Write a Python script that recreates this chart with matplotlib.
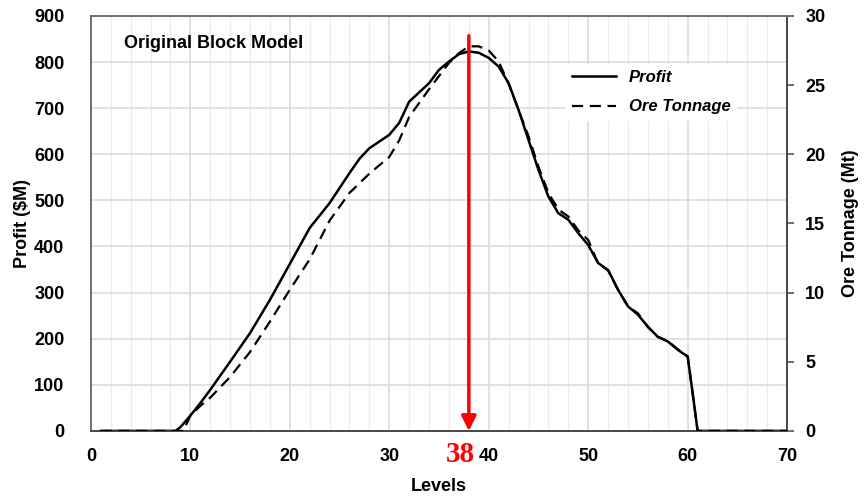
import matplotlib.pyplot as plt
import numpy as np
from matplotlib.lines import Line2D

plt.rcParams['font.family'] = ['Liberation Sans', 'DejaVu Sans']
plt.rcParams['font.weight'] = 'bold'

# Profit ($M) par niveau
levels_profit = [1, 8.5, 9, 10, 11, 12, 14, 16, 18, 20, 22, 24, 26, 27, 28, 30, 31, 32, 34, 35, 36, 37, 38,
                 39, 40, 41, 42, 43, 44, 45, 46, 47, 48, 49, 50, 51, 52, 53, 54, 55, 56, 57, 58, 59, 60,
                 60.5, 61, 70]
profit = [0, 0, 8, 33, 60, 89, 150, 212, 284, 362, 440, 494, 559, 590, 613, 642, 668, 714, 754, 783, 801, 817, 823,
          820, 809, 790, 754, 696, 631, 566, 508, 472, 458, 429, 403, 364, 349, 306, 270, 252, 226, 204, 194, 176, 161,
          82, 0, 0]

# Tonnage de minerai (Mt) par niveau
levels_ore = [1, 9.3, 10, 11, 12, 14, 16, 18, 20, 22, 23, 24, 26, 28, 30, 31, 32, 34, 36, 37, 38, 39, 40, 41,
              42, 43, 44, 45, 46, 47, 48, 49, 50, 51, 52, 53, 54, 55, 56, 57, 58, 59, 60, 60.5, 61, 70]
ore = [0, 0, 1.1, 1.8, 2.4, 3.9, 5.7, 7.9, 10.2, 12.4, 13.8, 15.2, 17.2, 18.6, 19.8, 21.0, 22.7, 24.7, 26.6, 27.3,
       27.8, 27.8, 27.5, 26.7, 25.1, 23.2, 21.3, 19.1, 17.2, 16.0, 15.5, 14.5, 13.8, 12.1, 11.6, 10.2, 9.0, 8.5,
       7.5, 6.8, 6.5, 5.9, 5.4, 2.7, 0, 0]

best_level = 38

fig = plt.figure(figsize=(8.65, 4.97), dpi=100)
ax = fig.add_axes([0.105, 0.133, 0.805, 0.835])
ax2 = ax.twinx()

ax.plot(levels_profit, profit, color='black', lw=1.8, zorder=3, solid_joinstyle='round')
ax2.plot(levels_ore, ore, color='black', lw=1.6, ls=(0, (5, 3)), zorder=3)

ax.set_xlim(0, 70)
ax.set_ylim(0, 900)
ax2.set_ylim(0, 30)
ax.set_xticks(np.arange(0, 71, 10))
ax.set_xticks(np.arange(0, 71, 2), minor=True)
ax.set_yticks(np.arange(0, 901, 100))
ax2.set_yticks(np.arange(0, 31, 5))

ax.grid(which='major', axis='x', color='#dcdcdc', lw=1.2)
ax.grid(which='minor', axis='x', color='#ececec', lw=1.0)
ax.grid(which='major', axis='y', color='#dcdcdc', lw=1.2)
ax.set_axisbelow(True)

ax.tick_params(axis='both', which='both', length=0, labelsize=13)
ax.tick_params(axis='y', pad=19)
ax.tick_params(axis='x', pad=12)
ax2.tick_params(axis='y', length=5, width=1.2, color='#555555', labelsize=13, pad=8)

for a in (ax, ax2):
    for s in a.spines.values():
        s.set_color('#707070')
        s.set_linewidth(1.2)
ax2.spines['right'].set_color('#404040')
ax2.spines['bottom'].set_color('#404040')

ax.set_xlabel('Levels', fontsize=13, fontweight='bold', labelpad=10)
ax.set_ylabel('Profit ($M)', fontsize=13, fontweight='bold', labelpad=2)
ax2.set_ylabel('Ore Tonnage (Mt)', fontsize=13, fontweight='bold', labelpad=12)

ax.text(0.047, 0.955, 'Original Block Model', transform=ax.transAxes, fontsize=13,
        fontweight='bold', va='top', ha='left')

# fleche du niveau optimal
ax.annotate('', xy=(best_level, 0), xytext=(best_level, 857),
            arrowprops=dict(arrowstyle='-|>', color='red', lw=2.5, mutation_scale=22,
                            shrinkA=0, shrinkB=0), zorder=5)
ax.text(best_level - 0.85, -22, str(best_level), color='red', fontsize=21, fontweight='bold',
        family='Liberation Serif', ha='center', va='top', clip_on=False)

handles = [Line2D([], [], color='black', lw=1.8),
           Line2D([], [], color='black', lw=1.6, ls=(0, (5, 3)))]
leg = ax2.legend(handles, ['Profit', 'Ore Tonnage'], loc='upper left',
                 bbox_to_anchor=(0.67, 0.905), frameon=True, fancybox=False,
                 edgecolor='none', facecolor='white', framealpha=1,
                 prop={'style': 'italic', 'weight': 'bold', 'size': 12},
                 handlelength=2.6, labelspacing=0.85)

fig.savefig('out.png', dpi=100)
